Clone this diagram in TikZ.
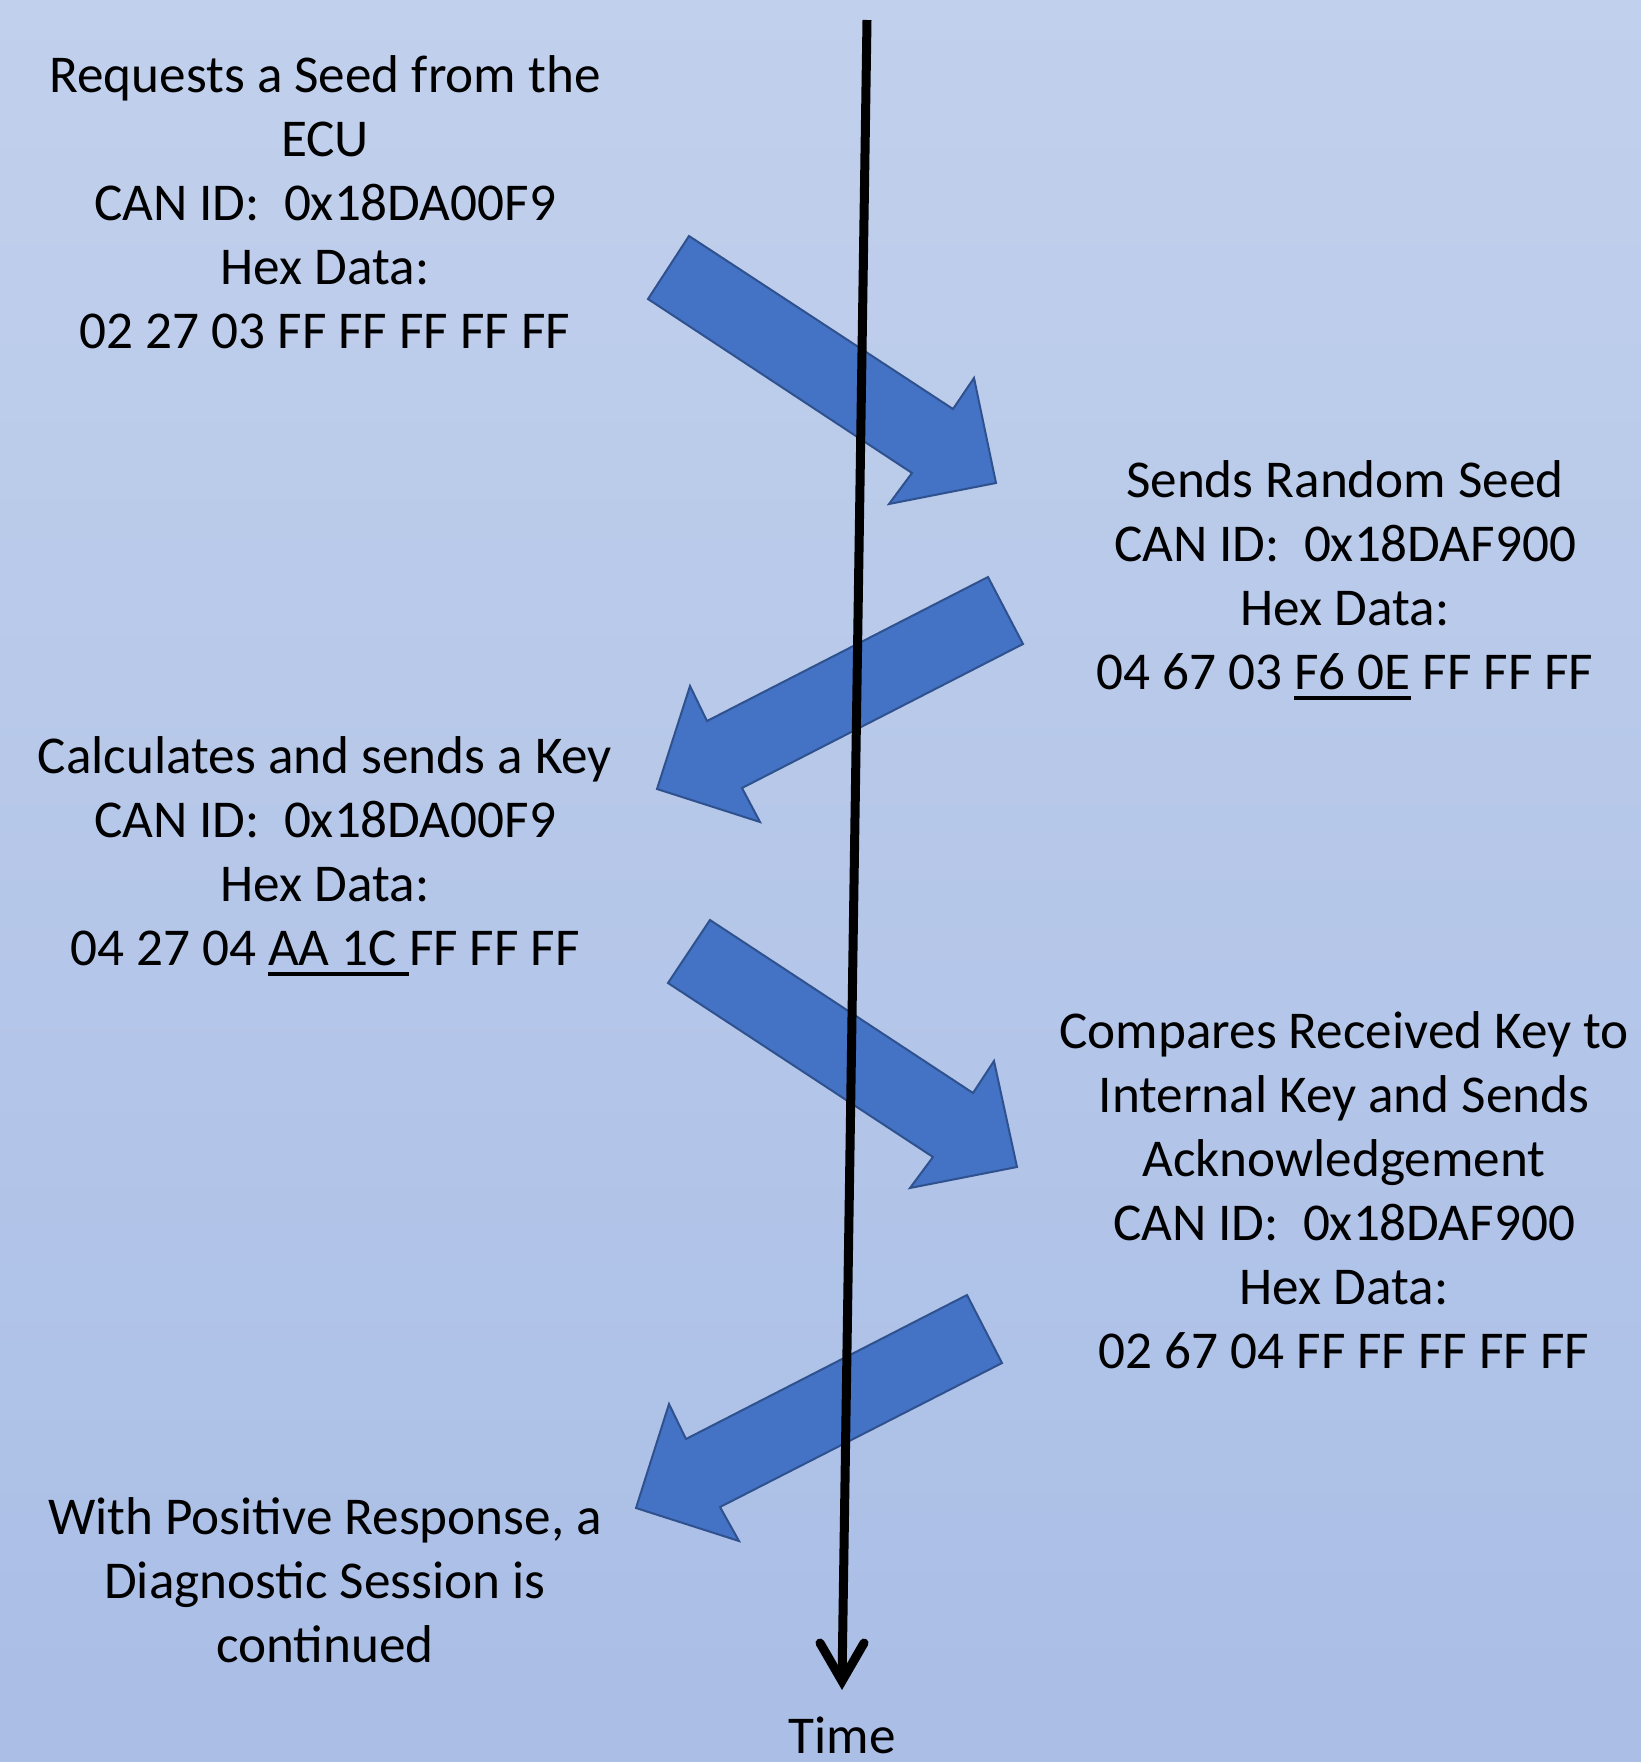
\documentclass[tikz,border=0pt]{standalone}
\usepackage{fontspec}
\setmainfont{Carlito}
\newcommand\myul[1]{\setbox0\hbox{#1}\rlap{\rule[-5.1pt]{\wd0}{1.8pt}}\box0\relax}
\definecolor{bgtop}{RGB}{193,208,236}
\definecolor{bgbot}{RGB}{170,190,230}
\definecolor{arrfill}{RGB}{68,114,196}
\definecolor{arrdraw}{RGB}{47,82,143}
\tikzset{
  txt/.style={inner sep=0pt, align=center, font={\fontsize{26.6}{32}\selectfont}, text=black},
  blockarrow/.style={fill=arrfill, draw=arrdraw, line width=1pt, line join=miter},
  timeline/.style={draw=black, line width=4.5pt, line cap=round, line join=miter}
}
\begin{document}
\begin{tikzpicture}[x=0.5pt,y=-0.5pt]
\useasboundingbox (0,0) rectangle (1641,1762);
\shade[top color=bgtop, bottom color=bgbot] (0,0) rectangle (1641,1762);

% block arrows
\draw[blockarrow] (689,236) -- (953,409) -- (974,378) -- (996,483) -- (889,504) -- (912,473) -- (648,299) -- cycle;
\draw[blockarrow] (988,577) -- (707,721) -- (690,686) -- (657,789) -- (760,822) -- (742,788) -- (1023,644) -- cycle;
\draw[blockarrow] (710,920) -- (973,1093) -- (994,1061) -- (1017,1167) -- (910,1188) -- (933,1157) -- (668,983) -- cycle;
\draw[blockarrow] (967,1295) -- (686,1439) -- (669,1404) -- (636,1508) -- (739,1541) -- (720,1507) -- (1002,1363) -- cycle;

% texts
\node[txt, anchor=north] (b1) at (325,47.2) {\strut Requests a Seed from the\\ECU\\CAN ID:\ \ 0x18DA00F9\\Hex Data:\\02 27 03 FF FF FF FF FF};
\node[txt, anchor=north] (b2) at (1345,452.2) {\strut Sends Random Seed\\CAN ID:\ \ 0x18DAF900\\Hex Data:\\04 67 03 \myul{F6 0E} FF FF FF};
\node[txt, anchor=north] (b3) at (325,728.2) {\strut Calculates and sends a Key\\CAN ID:\ \ 0x18DA00F9\\Hex Data:\\04 27 04 \myul{AA 1C }FF FF FF};
\node[txt, anchor=north] (b4) at (1344,1003.2) {\strut Compares Received Key to\\Internal Key and Sends\\Acknowledgement\\CAN ID:\ \ 0x18DAF900\\Hex Data:\\02 67 04 FF FF FF FF FF};
\node[txt, anchor=north] (b5) at (325,1489.2) {\strut With Positive Response, a\\Diagnostic Session is\\continued};
\node[txt, anchor=base] (time) at (842,1753) {Time};

% time line
\coordinate (ttop) at (867,20);
\coordinate (tend) at (842,1681);
\draw[timeline, line cap=butt] (ttop) -- (tend);
\draw[timeline] ([shift={(-22,-38)}]tend) -- (tend) -- ([shift={(22,-38)}]tend);
\end{tikzpicture}
\end{document}
